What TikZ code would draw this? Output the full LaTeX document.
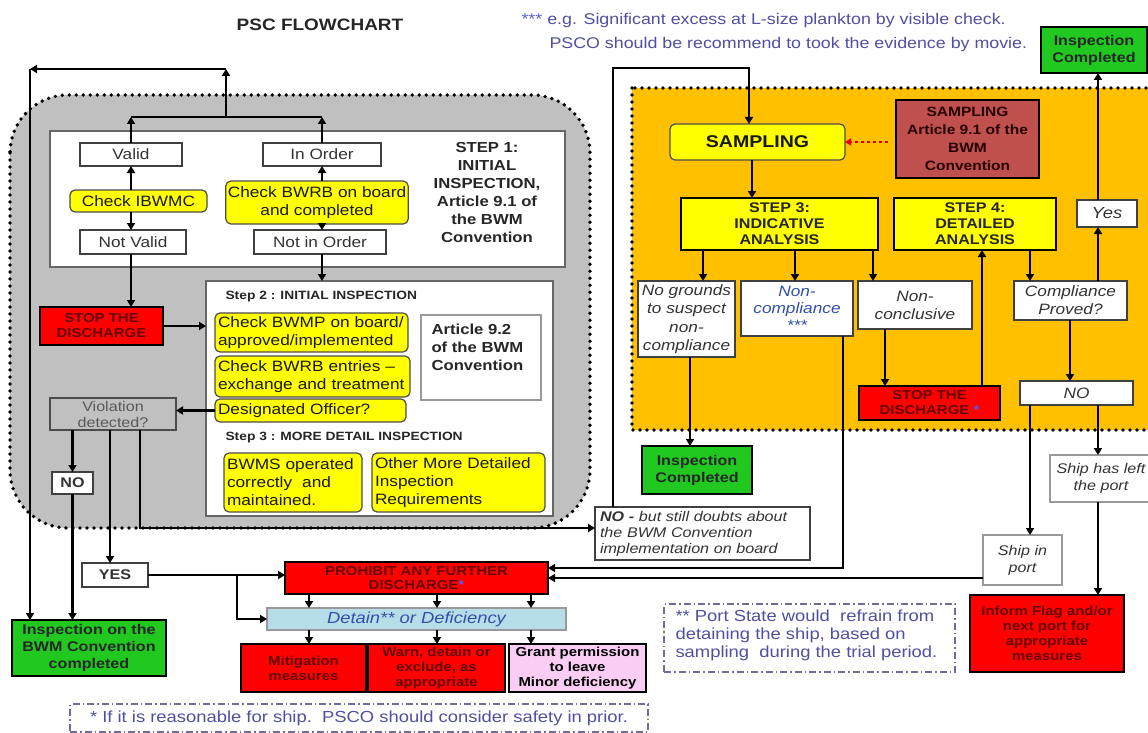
\documentclass[tikz,border=0pt]{standalone}
\usepackage{fontspec}
\setmainfont{Liberation Sans}[FakeStretch=1.15]
\usetikzlibrary{arrows.meta}
\newcommand\fsz[2]{\fontsize{#1}{#2}\selectfont}
\definecolor{gyellow}{RGB}{255,255,0}
\definecolor{gorange}{RGB}{255,192,0}
\definecolor{ggray}{RGB}{192,192,192}
\definecolor{ggreen}{RGB}{32,200,32}
\definecolor{gred}{RGB}{255,0,0}
\definecolor{dred}{RGB}{100,0,0}
\definecolor{lblue}{RGB}{183,222,232}
\definecolor{gpink}{RGB}{250,205,245}
\definecolor{artred}{RGB}{192,80,77}
\definecolor{notec}{RGB}{80,80,160}
\definecolor{notebord}{RGB}{110,110,150}
\definecolor{detblue}{RGB}{50,80,170}
\definecolor{starblue}{RGB}{90,90,230}
\tikzset{
  conn/.style={line width=2.6pt, -{Triangle[length=7pt,width=8pt]}},
  plainline/.style={line width=2.6pt},
  wh/.style 2 args={minimum width=#1pt, minimum height=#2pt},
  base/.style={rectangle, inner sep=2pt, outer sep=0pt, align=center},
  frame/.style={base, draw=black!60, line width=1.5pt, fill=white},
  wbox/.style={base, draw=black!75, line width=1.3pt, fill=white, text=black!80, font=\fsz{15}{18}},
  ibox/.style={wbox, font=\itshape\fsz{15}{18}},
  ybox/.style={base, draw=black!70, line width=1.2pt, fill=gyellow, rounded corners=5pt, text=black!90, font=\fsz{15}{18}},
  rbox/.style={base, draw=black, line width=2pt, fill=gred, text=dred, font=\bfseries\fsz{13}{15}},
  gbox/.style={base, draw=black, line width=2pt, fill=ggreen, text=black!85, font=\bfseries\fsz{14}{17}},
  sbox/.style={base, draw=black, line width=2pt, fill=gyellow, text=black!85, font=\bfseries\fsz{14}{16}},
  dotbord/.style={line width=3.8pt, line cap=round, dash pattern=on 0pt off 7pt},
  dashdot/.style={dash pattern=on 7pt off 3pt on 1.5pt off 3pt},
  notetxt/.style={text=notec, font=\fsz{15.5}{18}},
}
\begin{document}
\begin{tikzpicture}[x=1pt,y=-1pt]
\useasboundingbox (0,0) rectangle (1148,733);
\fill[white] (0,0) rectangle (1148,733);
\clip (0,0) rectangle (1148,733);

% regions
\draw[dotbord, fill=ggray, rounded corners=58pt] (10,95) rectangle (590,528);
\draw[dotbord, fill=gorange] (632,88) rectangle (1170,430);

% titles and notes
\node[font=\bfseries\fsz{16.5}{18}, text=black!85] (title) at (320,25) {PSC FLOWCHART};
\node[notetxt, anchor=west] (note1) at (518,20) {\textcolor{starblue}{***} e.g. Significant excess at L-size plankton\ by visible check.};
\node[notetxt, anchor=west] (note2) at (546,44) {PSCO should\ be recommend to took the evidence\ by movie.};

% step frames
\node[frame, wh={515}{136}] (step1) at (307.5,199) {};
\node[frame, wh={347}{235}] (step2) at (379.5,398.5) {};

% step 1
\node[wbox, wh={102}{23}] (valid) at (131,154.5) {Valid};
\node[wbox, wh={118}{23}] (inorder) at (322,154.5) {In Order};
\node[ybox, wh={137}{22}] (ibwmc) at (138.5,201) {Check IBWMC};
\node[ybox, wh={182}{43}] (bwrb) at (317,202.5) {Check BWRB on board\\and completed};
\node[wbox, wh={106}{24}] (notvalid) at (133,242) {Not Valid};
\node[wbox, wh={132}{24}] (notinorder) at (320,242) {Not in Order};
\node[font=\bfseries\fsz{14.5}{18}, align=center, text=black!85] (s1txt) at (487,193) {STEP 1:\\INITIAL\\INSPECTION,\\Article 9.1 of\\the BWM\\Convention};

% step 2
\node[font=\bfseries\fsz{12}{14}, anchor=west, text=black!85] (s2hdr) at (222,297) {Step 2 : INITIAL INSPECTION};
\node[ybox, wh={193}{39}, text width=187pt, align=left, inner xsep=3pt] (bwmp) at (311.5,332.5) {Check BWMP on board/\\approved/implemented};
\node[ybox, wh={195}{41}, text width=189pt, align=left, inner xsep=3pt] (bwrbent) at (312.5,376.5) {Check BWRB entries --\\exchange and treatment};
\node[ybox, wh={191}{23}, text width=185pt, align=left, inner xsep=3pt] (desig) at (310.5,410.5) {Designated Officer?};
\node[base, draw=black!40, line width=1.3pt, fill=white, wh={120}{85}] (art92) at (481,357.5) {};
\node[anchor=north west, font=\bfseries\fsz{14.5}{18}, align=left, text=black!85] (art92txt) at (428,320) {Article 9.2\\of the BWM\\Convention};
\node[font=\bfseries\fsz{12}{14}, anchor=west, text=black!85] (s3hdr) at (222,438) {Step 3 : MORE DETAIL INSPECTION};
\node[ybox, wh={138}{59}, text width=132pt, align=left, inner xsep=3pt] (bwms) at (293,482.5) {BWMS operated\\correctly\ \ and\\maintained.};
\node[ybox, wh={173}{59}, text width=167pt, align=left, inner xsep=3pt] (other) at (458.5,482.5) {Other More Detailed\\Inspection\\Requirements};

% left column
\node[rbox, wh={123}{38}] (stop1) at (101.5,326) {STOP THE\\DISCHARGE};
\node[base, draw=black!70, line width=1.3pt, fill=ggray, text=black!65, font=\fsz{14}{16}, wh={126}{32}] (viol) at (113,414) {Violation\\detected?};
\node[wbox, font=\bfseries\fsz{14}{16}, wh={41}{22}] (no1) at (72.5,483) {NO};
\node[wbox, font=\bfseries\fsz{14}{16}, wh={66}{24}] (yes1) at (115,575) {YES};
\node[gbox, wh={154}{56}] (inspBWM) at (89,648) {Inspection on the\\BWM Convention\\completed};

% bottom centre
\node[rbox, wh={263}{32}, font=\bfseries\fsz{13}{14.5}] (prohibit) at (416.5,578) {PROHIBIT ANY FURTHER\\DISCHARGE\textcolor{starblue}{*}};
\node[base, draw=black!40, line width=1.3pt, fill=lblue, text=detblue, font=\itshape\fsz{16}{18}, wh={299}{22}] (detain) at (416.5,619) {Detain** or Deficiency};
\node[rbox, wh={125}{48}] (mitig) at (303.5,668) {Mitigation\\measures};
\node[rbox, wh={137}{48}] (warn) at (436.5,668) {Warn, detain or\\exclude, as\\appropriate};
\node[rbox, fill=gpink, text=black, wh={137}{48}] (grant) at (577.5,668) {Grant permission\\to leave\\Minor deficiency};
\node[base, draw=notebord, dashdot, line width=1.3pt, wh={578}{28}, notetxt, font=\fsz{16}{18}] (foot1) at (359,718) {* If it is reasonable for ship.\ \ PSCO should\ consider safety in prior.};

% right side
\node[ybox, wh={175}{36}, font=\bfseries\fsz{17}{20}] (sampling) at (757.5,142) {SAMPLING};
\node[base, draw=black, line width=2pt, fill=artred, text=black!85!red, font=\bfseries\fsz{13.5}{18}, wh={143}{78}] (sampart) at (967.5,139) {SAMPLING\\Article 9.1 of the\\BWM\\Convention};
\node[sbox, wh={197}{52}] (step3) at (779.5,224) {STEP 3:\\INDICATIVE\\ANALYSIS};
\node[sbox, wh={162}{52}] (step4) at (975,224) {STEP 4:\\DETAILED\\ANALYSIS};
\node[ibox, wh={60}{27}, font=\itshape\fsz{16}{18}] (yes2) at (1107,213.5) {Yes};
\node[gbox, wh={106}{46}] (inspC1) at (1094,50) {Inspection\\Completed};
\node[ibox, wh={97}{76}, font=\itshape\fsz{15}{18.5}] (nogrounds) at (686.5,319) {No grounds\\to suspect\\non-\\compliance};
\node[ibox, wh={112}{55}, text=detblue, font=\itshape\fsz{15}{17}] (noncomp) at (797,308.5) {Non-\\compliance\\***};
\node[ibox, wh={114}{48}] (nonconc) at (915,305) {Non-\\conclusive};
\node[ibox, wh={113}{39}] (comp) at (1070.5,300.5) {Compliance\\Proved?};
\node[ibox, wh={113}{24}] (no2) at (1076.5,393) {NO};
\node[rbox, wh={141}{34}] (stop2) at (929.5,403) {STOP THE\\DISCHARGE \textcolor{starblue}{*}};
\node[gbox, wh={110}{48}] (inspC2) at (697,470) {Inspection\\Completed};
\node[ibox, wh={215}{53}, text width=205pt, align=left, inner xsep=5pt, font=\itshape\fsz{14}{16}] (nodoubt) at (702.5,533.5) {\textbf{NO -} but still doubts about\\the BWM Convention\\implementation on board};
\node[ibox, draw=black!40, wh={79}{50}, font=\itshape\fsz{14}{17}] (shipin) at (1022.5,560) {Ship in\\port};
\node[ibox, draw=black!40, wh={102}{47}, font=\itshape\fsz{14}{17}] (shipleft) at (1101,478.5) {Ship has left\\the port};
\node[rbox, wh={154}{77}] (inform) at (1047,633.5) {Inform Flag and/or\\next port for\\appropriate\\measures};
\node[base, draw=notebord, dashdot, line width=1.3pt, wh={291}{68}] (foot2) at (809.5,638) {};
\node[anchor=north west, align=left, notetxt, font=\fsz{16}{18}] (foot2txt) at (672,606) {** Port State would\ \ refrain from\\detaining the ship, based on\\sampling\ \ during the trial period.};

% ---- connectors, left
\draw[conn] (valid.north) -- (valid.north |- 0,117);
\draw[conn] (inorder.north) -- (inorder.north |- 0,117);
\draw[plainline] (valid.north |- 0,117) -- (inorder.north |- 0,117);
\coordinate (j1) at (226,117);
\coordinate (j2) at (226,69);
\coordinate (j3) at (30,69);
\draw[conn] (j1) -- (j2);
\draw[conn] (j2) -- (j3);
\draw[conn] (j3) -- (j3 |- inspBWM.north);
\draw[conn] (ibwmc.north -| valid.north) -- (valid.south);
\draw[conn] (ibwmc.south -| valid.north) -- (notvalid.north -| valid.north);
\draw[conn] (bwrb.north -| inorder.north) -- (inorder.south);
\draw[conn] (bwrb.south -| inorder.north) -- (notinorder.north -| inorder.north);
\draw[conn] (notvalid.south -| valid.north) -- (stop1.north -| valid.north);
\draw[conn] (notinorder.south -| inorder.north) -- (step2.north -| inorder.north);
\draw[conn] (stop1.east) -- (stop1.east -| step2.west);
\draw[conn] (desig.west) -- (desig.west -| viol.east);
\draw[conn] (viol.south -| no1.north) -- (no1.north);
\draw[conn] (no1.south) -- (no1.south |- inspBWM.north);
\draw[conn] (110,0 |- viol.south) -- (110,0 |- yes1.north);
\draw[conn] (140,0 |- viol.south) |- (nodoubt.west |- 0,528);
\draw[conn] (yes1.east) -- (yes1.east -| prohibit.west);
\draw[conn] (237,0 |- yes1.east) |- (detain.west);
\draw[conn] (309,0 |- prohibit.south) -- (309,0 |- detain.north);
\draw[conn] (437,0 |- prohibit.south) -- (437,0 |- detain.north);
\draw[conn] (531,0 |- prohibit.south) -- (531,0 |- detain.north);
\draw[conn] (309,0 |- detain.south) -- (309,0 |- mitig.north);
\draw[conn] (437,0 |- detain.south) -- (437,0 |- warn.north);
\draw[conn] (531,0 |- detain.south) -- (531,0 |- grant.north);

% ---- connectors, right
\draw[conn] (613,0 |- nodoubt.north) -- (613,68) -- (749,68) -- (749,0 |- sampling.north);
\coordinate (dotstart) at (888,142);
\draw[red!90!black, line width=2pt, dash pattern=on 3pt off 3pt, -{Triangle[length=6pt,width=7pt]}] (dotstart) -- (sampling.east);
\draw[conn] (752,0 |- sampling.south) -- (752,0 |- step3.north);
\draw[conn] (703,0 |- step3.south) -- (703,0 |- nogrounds.north);
\draw[conn] (795,0 |- step3.south) -- (795,0 |- noncomp.north);
\draw[conn] (873,0 |- step3.south) -- (873,0 |- nonconc.north);
\draw[conn] (1030,0 |- step4.south) -- (1030,0 |- comp.north);
\draw[conn] (1098,0 |- comp.north) -- (1098,0 |- yes2.south);
\draw[conn] (1098,0 |- yes2.north) -- (1098,0 |- inspC1.south);
\draw[conn] (1070,0 |- comp.south) -- (1070,0 |- no2.north);
\draw[conn] (885,0 |- nonconc.south) -- (885,0 |- stop2.north);
\draw[conn] (982,0 |- stop2.north) -- (982,0 |- step4.south);
\draw[conn] (690,0 |- nogrounds.south) -- (690,0 |- inspC2.north);
\draw[conn] (843,0 |- noncomp.south) |- (prohibit.east |- 0,568);
\draw[conn] (1030,0 |- no2.south) -- (1030,0 |- shipin.north);
\draw[conn] (1098,0 |- no2.south) -- (1098,0 |- shipleft.north);
\draw[conn] (1098,0 |- shipleft.south) -- (1098,0 |- inform.north);
\draw[conn] (shipin.west |- 0,578) -- (prohibit.east |- 0,578);
\end{tikzpicture}
\end{document}
